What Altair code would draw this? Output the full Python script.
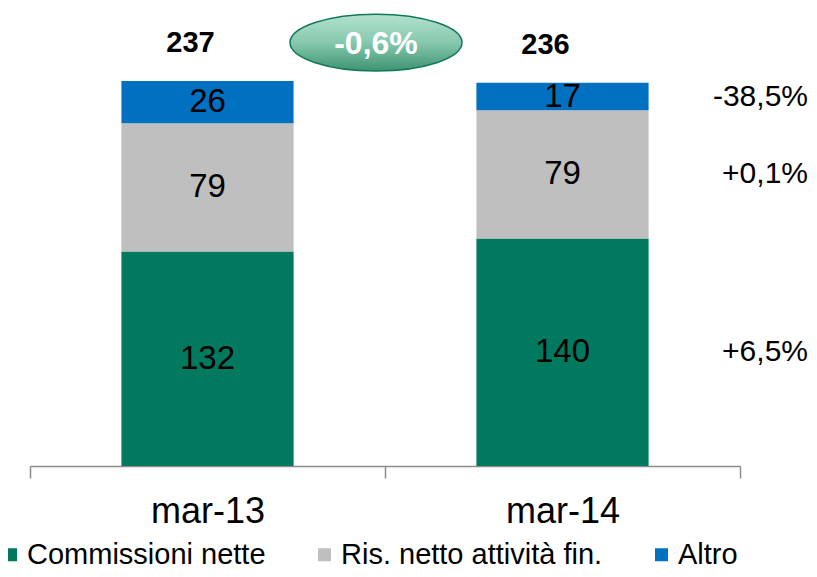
import altair as alt
import pandas as pd

# ---- data -------------------------------------------------------------
periods = ["mar-13", "mar-14"]
series = ["Commissioni nette", "Ris. netto attività fin.", "Altro"]
commissioni = [132, 140]
ris_netto = [79, 79]
altro = [26, 17]
totals = [237, 236]
total_labels = ["237", "236"]
delta_label = "-0,6%"
series_changes = ["+6,5%", "+0,1%", "-38,5%"]
colors = ["#00795F", "#BFBFBF", "#0070C0"]

FONT = "Liberation Sans"

# ---- tables built from the arrays --------------------------------------
rows = []
for i, p in enumerate(periods):
    base = 0
    for k, (s, vals) in enumerate(zip(series, [commissioni, ris_netto, altro])):
        v = vals[i]
        rows.append({"period": p, "series": s, "value": v, "order": k,
                     "mid": base + v / 2})
        base += v
df = pd.DataFrame(rows)

df_tot = pd.DataFrame({"period": periods, "total": totals, "label": total_labels})

last = df[df["period"] == periods[-1]].reset_index(drop=True)
df_chg = pd.DataFrame({"period": [periods[-1]] * len(series), "series": series,
                       "label": series_changes, "mid": last["mid"]})

df_badge = pd.DataFrame({"period": [periods[0]], "label": [delta_label],
                         "ypos": [max(totals) * 1.1]})

# ---- encodings ----------------------------------------------------------
x_scale = alt.Scale(paddingInner=0, paddingOuter=0)
x_axis = alt.Axis(title=None, labelAngle=0, tickBand="extent", grid=False,
                  domainColor="#8C8C8C", tickColor="#8C8C8C", domainWidth=1.5,
                  tickWidth=1.5, tickSize=12, labelFontSize=36, labelFont=FONT,
                  labelColor="#000000", labelPadding=16)
x_enc = alt.X("period:N", sort=periods, scale=x_scale, axis=x_axis)
x_end = alt.X("period:N", sort=periods, scale=x_scale, axis=x_axis, bandPosition=1)
y_scale = alt.Scale(domain=[0, 282], nice=False)

bars = alt.Chart(df).mark_bar(width=alt.RelativeBandSize(0.485)).encode(
    x=x_enc,
    y=alt.Y("value:Q", stack="zero", scale=y_scale, axis=None),
    color=alt.Color("series:N", sort=series,
                    scale=alt.Scale(domain=series, range=colors),
                    legend=alt.Legend(orient="none", legendX=-34, legendY=532,
                                      direction="horizontal", title=None,
                                      symbolType="square", symbolSize=169,
                                      symbolStrokeWidth=0, labelFontSize=29,
                                      labelFont=FONT, labelColor="#000000",
                                      labelLimit=400, labelOffset=2,
                                      columnPadding=44, padding=0)),
    order=alt.Order("order:Q", sort="ascending"),
)

bar_labels = alt.Chart(df).mark_text(fontSize=33, font=FONT, color="#000000",
                                     baseline="middle").encode(
    x=x_enc,
    y=alt.Y("mid:Q", scale=y_scale, axis=None),
    text="value:Q",
)

tot_labels = alt.Chart(df_tot).mark_text(fontSize=29, font=FONT, fontWeight="bold",
                                         color="#000000", baseline="middle",
                                         dy=-38, dx=-17).encode(
    x=x_enc,
    y=alt.Y("total:Q", scale=y_scale, axis=None),
    text="label:N",
)

chg_labels = alt.Chart(df_chg).mark_text(fontSize=30, font=FONT, color="#000000",
                                         align="right", baseline="middle",
                                         dx=68).encode(
    x=x_end,
    y=alt.Y("mid:Q", scale=y_scale, axis=None),
    text="label:N",
)

ellipse_path = "M -1 0 A 1 0.331 0 1 1 1 0 A 1 0.331 0 1 1 -1 0 Z"
badge = alt.Chart(df_badge).mark_point(
    shape=ellipse_path, size=29584, filled=True, opacity=1,
    fill=alt.Gradient(gradient="linear", x1=0, x2=0, y1=0, y2=1,
                      stops=[alt.GradientStop(color="#B3E2CF", offset=0),
                             alt.GradientStop(color="#86C8AD", offset=0.5),
                             alt.GradientStop(color="#3E9472", offset=1)]),
    stroke="#12785A", strokeWidth=1.5, xOffset=-9,
).encode(
    x=x_end,
    y=alt.Y("ypos:Q", scale=y_scale, axis=None),
)

badge_text = alt.Chart(df_badge).mark_text(fontSize=32, font=FONT, fontWeight="bold",
                                           color="#FFFFFF", baseline="middle",
                                           dx=-9, dy=1).encode(
    x=x_end,
    y=alt.Y("ypos:Q", scale=y_scale, axis=None),
    text="label:N",
)

chart = alt.layer(bars, bar_labels, tot_labels, chg_labels, badge, badge_text).properties(
    width=710, height=458,
    autosize=alt.AutoSizeParams(type="none"),
    padding={"left": 22, "top": 0, "right": 69, "bottom": 103},
).configure_view(stroke=None)

chart.save("out.html", embed_options={"renderer": "svg", "actions": False})
